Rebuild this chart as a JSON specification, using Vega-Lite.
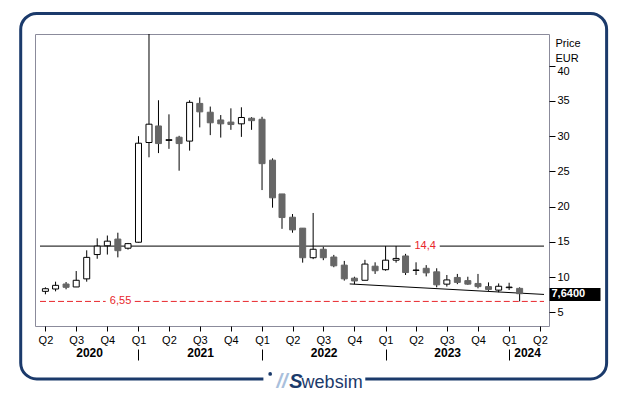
{
  "$schema": "https://vega.github.io/schema/vega-lite/v6.json",
  "width": 514,
  "height": 292,
  "autosize": {"type": "none"},
  "padding": {"left": 35, "top": 34, "right": 80, "bottom": 69},
  "background": "white",
  "config": {
    "font": "Liberation Sans",
    "view": {"stroke": "#8b8b9b", "strokeWidth": 1},
    "axis": {"grid": false}
  },
  "datasets": {
    "candles": [
      {"date": "2020-04-01", "open": 7.98, "high": 8.55, "low": 7.56, "close": 8.35},
      {"date": "2020-05-01", "open": 8.31, "high": 9.35, "low": 7.98, "close": 8.83},
      {"date": "2020-06-01", "open": 9.02, "high": 9.3, "low": 8.27, "close": 8.55},
      {"date": "2020-07-01", "open": 8.6, "high": 10.86, "low": 8.59, "close": 9.55},
      {"date": "2020-08-01", "open": 9.75, "high": 13.8, "low": 9.35, "close": 12.8},
      {"date": "2020-09-01", "open": 13.2, "high": 15.5, "low": 12.6, "close": 14.4},
      {"date": "2020-10-01", "open": 14.45, "high": 15.9, "low": 13.2, "close": 15.1},
      {"date": "2020-11-01", "open": 15.4, "high": 16.3, "low": 12.8, "close": 13.75},
      {"date": "2020-12-01", "open": 14.1, "high": 14.85, "low": 13.9, "close": 14.75},
      {"date": "2021-01-01", "open": 14.95, "high": 30.0, "low": 14.9, "close": 29.0},
      {"date": "2021-02-01", "open": 29.1, "high": 44.5, "low": 27.0, "close": 31.7},
      {"date": "2021-03-01", "open": 31.45, "high": 35.1, "low": 27.6, "close": 28.95},
      {"date": "2021-04-01", "open": 29.4, "high": 33.1, "low": 28.2, "close": 29.5},
      {"date": "2021-05-01", "open": 29.85, "high": 30.05, "low": 25.1, "close": 28.95},
      {"date": "2021-06-01", "open": 29.3, "high": 35.1, "low": 27.95, "close": 34.8},
      {"date": "2021-07-01", "open": 34.65, "high": 35.5, "low": 31.25, "close": 33.45},
      {"date": "2021-08-01", "open": 33.4, "high": 34.2, "low": 30.15, "close": 31.9},
      {"date": "2021-09-01", "open": 32.3, "high": 33.0, "low": 29.8, "close": 31.75},
      {"date": "2021-10-01", "open": 32.0, "high": 33.95, "low": 30.9, "close": 31.65},
      {"date": "2021-11-01", "open": 31.75, "high": 34.1, "low": 29.9, "close": 32.65},
      {"date": "2021-12-01", "open": 32.55, "high": 32.7, "low": 30.9, "close": 32.2},
      {"date": "2022-01-01", "open": 32.4, "high": 32.75, "low": 22.35, "close": 26.1},
      {"date": "2022-02-01", "open": 26.6, "high": 26.85, "low": 19.85, "close": 21.25},
      {"date": "2022-03-01", "open": 21.8, "high": 21.8, "low": 16.85, "close": 18.45},
      {"date": "2022-04-01", "open": 18.5, "high": 18.95, "low": 16.3, "close": 16.7},
      {"date": "2022-05-01", "open": 16.95, "high": 16.95, "low": 12.05, "close": 12.75},
      {"date": "2022-06-01", "open": 12.75, "high": 19.1, "low": 12.55, "close": 13.95},
      {"date": "2022-07-01", "open": 13.95, "high": 14.3, "low": 12.4, "close": 12.75},
      {"date": "2022-08-01", "open": 12.85, "high": 13.15, "low": 11.4, "close": 11.6},
      {"date": "2022-09-01", "open": 11.7, "high": 12.3, "low": 9.5, "close": 9.75},
      {"date": "2022-10-01", "open": 9.85, "high": 10.05, "low": 9.0, "close": 9.45},
      {"date": "2022-11-01", "open": 9.55, "high": 12.45, "low": 9.55, "close": 11.85},
      {"date": "2022-12-01", "open": 11.55, "high": 12.1, "low": 10.45, "close": 10.9},
      {"date": "2023-01-01", "open": 11.05, "high": 14.4, "low": 10.9, "close": 12.4},
      {"date": "2023-02-01", "open": 12.4, "high": 14.4, "low": 12.05, "close": 12.65},
      {"date": "2023-03-01", "open": 13.0, "high": 13.3, "low": 10.3, "close": 10.65},
      {"date": "2023-04-01", "open": 10.95, "high": 12.1, "low": 10.3, "close": 11.0},
      {"date": "2023-05-01", "open": 11.25, "high": 11.7, "low": 10.1, "close": 10.6},
      {"date": "2023-06-01", "open": 10.75, "high": 11.25, "low": 8.55, "close": 8.9},
      {"date": "2023-07-01", "open": 9.0, "high": 10.3, "low": 8.65, "close": 9.6},
      {"date": "2023-08-01", "open": 9.95, "high": 10.45, "low": 9.0, "close": 9.25},
      {"date": "2023-09-01", "open": 9.5, "high": 10.05, "low": 8.9, "close": 9.0},
      {"date": "2023-10-01", "open": 9.1, "high": 10.45, "low": 8.4, "close": 8.65},
      {"date": "2023-11-01", "open": 8.65, "high": 9.25, "low": 8.05, "close": 8.25},
      {"date": "2023-12-01", "open": 8.15, "high": 9.1, "low": 7.85, "close": 8.7},
      {"date": "2024-01-01", "open": 8.5, "high": 9.2, "low": 8.17, "close": 8.58},
      {"date": "2024-02-01", "open": 8.4, "high": 8.55, "low": 6.55, "close": 7.64}
    ]
  },
  "layer": [
    {
      "data": {"values": [{"x1": "2020-01-19", "x2": "2024-10-15", "y1": 47.42, "y2": -4.45}]},
      "mark": {"type": "rect", "cornerRadius": 16, "fill": "white", "fillOpacity": 0, "stroke": "#1b3a6b", "strokeWidth": 3},
      "encoding": {
        "x": {"field": "x1", "type": "temporal", "scale": {"domain": [{"year": 2020, "month": 3, "date": 16}, {"year": 2024, "month": 4, "date": 13}], "nice": false}, "axis": null},
        "x2": {"field": "x2"},
        "y": {"field": "y1", "type": "quantitative", "scale": {"domain": [3.06, 44.5], "nice": false, "zero": false}, "axis": null},
        "y2": {"field": "y2"}
      }
    },
    {
      "data": {"values": [{"x1": "2022-01-05", "x2": "2022-11-02", "y1": -3.17, "y2": -6.0}]},
      "mark": {"type": "rect", "fill": "white", "strokeWidth": 0},
      "encoding": {
        "x": {"field": "x1", "type": "temporal", "scale": {"domain": [{"year": 2020, "month": 3, "date": 16}, {"year": 2024, "month": 4, "date": 13}], "nice": false}, "axis": null},
        "x2": {"field": "x2"},
        "y": {"field": "y1", "type": "quantitative", "scale": {"domain": [3.06, 44.5], "nice": false, "zero": false}, "axis": null},
        "y2": {"field": "y2"}
      }
    },
    {
      "data": {"values": [{"x": "2022-01-25", "y": -3.74}]},
      "mark": {"type": "circle", "size": 14, "color": "#1b3a6b", "opacity": 1},
      "encoding": {
        "x": {"field": "x", "type": "temporal", "scale": {"domain": [{"year": 2020, "month": 3, "date": 16}, {"year": 2024, "month": 4, "date": 13}], "nice": false}, "axis": null},
        "y": {"field": "y", "type": "quantitative", "scale": {"domain": [3.06, 44.5], "nice": false, "zero": false}, "axis": null}
      }
    },
    {
      "data": {"values": [{"x": "2022-03-01", "y": -5.73, "t": "//"}]},
      "mark": {"type": "text", "fontSize": 20, "fontWeight": "bold", "fontStyle": "italic", "color": "#a9bfdc", "align": "center", "baseline": "alphabetic"},
      "encoding": {
        "x": {"field": "x", "type": "temporal", "scale": {"domain": [{"year": 2020, "month": 3, "date": 16}, {"year": 2024, "month": 4, "date": 13}], "nice": false}, "axis": null},
        "y": {"field": "y", "type": "quantitative", "scale": {"domain": [3.06, 44.5], "nice": false, "zero": false}, "axis": null},
        "text": {"field": "t"}
      }
    },
    {
      "data": {"values": [{"x": "2022-04-11", "y": -5.73, "t": "S"}]},
      "mark": {"type": "text", "fontSize": 20, "fontWeight": "bold", "fontStyle": "italic", "color": "#1b3a6b", "align": "center", "baseline": "alphabetic"},
      "encoding": {
        "x": {"field": "x", "type": "temporal", "scale": {"domain": [{"year": 2020, "month": 3, "date": 16}, {"year": 2024, "month": 4, "date": 13}], "nice": false}, "axis": null},
        "y": {"field": "y", "type": "quantitative", "scale": {"domain": [3.06, 44.5], "nice": false, "zero": false}, "axis": null},
        "text": {"field": "t"}
      }
    },
    {
      "data": {"values": [{"x": "2022-07-27", "y": -5.73, "t": "websim"}]},
      "mark": {"type": "text", "fontSize": 18, "color": "#1b3a6b", "align": "center", "baseline": "alphabetic"},
      "encoding": {
        "x": {"field": "x", "type": "temporal", "scale": {"domain": [{"year": 2020, "month": 3, "date": 16}, {"year": 2024, "month": 4, "date": 13}], "nice": false}, "axis": null},
        "y": {"field": "y", "type": "quantitative", "scale": {"domain": [3.06, 44.5], "nice": false, "zero": false}, "axis": null},
        "text": {"field": "t"}
      }
    },
    {
      "data": {"values": [{"x1": "2020-03-16", "x2": "2023-03-16", "y": 14.4}, {"x1": "2023-06-10", "x2": "2024-04-13", "y": 14.4}]},
      "mark": {"type": "rule", "color": "#000000", "strokeWidth": 1},
      "encoding": {
        "x": {"field": "x1", "type": "temporal", "scale": {"domain": [{"year": 2020, "month": 3, "date": 16}, {"year": 2024, "month": 4, "date": 13}], "nice": false},
          "axis": {"orient": "bottom", "values": [{"year": 2020, "month": 8, "date": 8}, {"year": 2021, "month": 7, "date": 2}, {"year": 2022, "month": 7, "date": 2}, {"year": 2023, "month": 7, "date": 2}, {"year": 2024, "month": 2, "date": 23}], "format": "%Y", "formatType": "time", "ticks": false, "domain": false, "grid": false, "labelPadding": 2, "offset": 19, "labelFontSize": 12, "labelFontWeight": "bold", "labelColor": "#000000", "labelFlush": false, "labelOverlap": false, "title": null}},
        "x2": {"field": "x2"},
        "y": {"field": "y", "type": "quantitative", "scale": {"domain": [3.06, 44.5], "nice": false, "zero": false},
          "axis": {"orient": "right", "values": [7.64], "tickSize": 51, "tickWidth": 13, "tickColor": "#000000", "labelColor": "#ffffff", "labelFontWeight": "bold", "labelFontSize": 11, "labelPadding": -49, "labelAlign": "left", "labelBaseline": "middle", "labelExpr": "'7,6400'", "domain": false, "grid": false, "labelOverlap": false, "labelFlush": false, "title": null}}
      }
    },
    {
      "data": {"values": [{"x1": "2020-03-16", "x2": "2020-09-26", "y": 6.55}, {"x1": "2020-12-21", "x2": "2024-04-13", "y": 6.55}]},
      "mark": {"type": "rule", "color": "#e8262b", "strokeWidth": 1, "strokeDash": [6, 3]},
      "encoding": {
        "x": {"field": "x1", "type": "temporal", "scale": {"domain": [{"year": 2020, "month": 3, "date": 16}, {"year": 2024, "month": 4, "date": 13}], "nice": false},
          "axis": {"orient": "bottom", "values": [{"year": 2021, "month": 1, "date": 1}, {"year": 2022, "month": 1, "date": 1}, {"year": 2023, "month": 1, "date": 1}, {"year": 2024, "month": 1, "date": 1}], "labels": false, "domain": false, "grid": false, "tickSize": 11, "tickColor": "#000000", "offset": 23, "title": null}},
        "x2": {"field": "x2"},
        "y": {"field": "y", "type": "quantitative", "scale": {"domain": [3.06, 44.5], "nice": false, "zero": false}, "axis": null}
      }
    },
    {
      "data": {"values": [{"x": "2022-09-17", "y": 9.03}, {"x": "2024-04-13", "y": 7.54}]},
      "mark": {"type": "line", "color": "#000000", "strokeWidth": 1},
      "encoding": {
        "x": {"field": "x", "type": "temporal", "scale": {"domain": [{"year": 2020, "month": 3, "date": 16}, {"year": 2024, "month": 4, "date": 13}], "nice": false}, "axis": null},
        "y": {"field": "y", "type": "quantitative", "scale": {"domain": [3.06, 44.5], "nice": false, "zero": false}, "axis": null}
      }
    },
    {
      "data": {"name": "candles"},
      "mark": {"type": "rule", "color": "#000000", "strokeWidth": 1},
      "encoding": {
        "x": {"field": "date", "type": "temporal", "scale": {"domain": [{"year": 2020, "month": 3, "date": 16}, {"year": 2024, "month": 4, "date": 13}], "nice": false},
          "axis": {"orient": "bottom", "values": [{"year": 2020, "month": 4, "date": 1}, {"year": 2020, "month": 7, "date": 1}, {"year": 2020, "month": 10, "date": 1}, {"year": 2021, "month": 1, "date": 1}, {"year": 2021, "month": 4, "date": 1}, {"year": 2021, "month": 7, "date": 1}, {"year": 2021, "month": 10, "date": 1}, {"year": 2022, "month": 1, "date": 1}, {"year": 2022, "month": 4, "date": 1}, {"year": 2022, "month": 7, "date": 1}, {"year": 2022, "month": 10, "date": 1}, {"year": 2023, "month": 1, "date": 1}, {"year": 2023, "month": 4, "date": 1}, {"year": 2023, "month": 7, "date": 1}, {"year": 2023, "month": 10, "date": 1}, {"year": 2024, "month": 1, "date": 1}, {"year": 2024, "month": 4, "date": 1}], "format": "Q%q", "formatType": "time", "tickSize": 5, "tickColor": "#000000", "labelPadding": 3, "labelFontSize": 11, "labelColor": "#000000", "domain": false, "grid": false, "labelFlush": false, "labelOverlap": false, "title": null}},
        "y": {"field": "low", "type": "quantitative", "scale": {"domain": [3.06, 44.5], "nice": false, "zero": false},
          "axis": {"orient": "right", "values": [5, 10, 15, 20, 25, 30, 35, 40], "tickSize": 6, "tickColor": "#000000", "labelPadding": 2, "labelFontSize": 11, "labelColor": "#000000", "domain": false, "grid": false, "labelFlush": false, "labelOverlap": false, "labelBaseline": {"condition": {"test": "datum.value == 40", "value": "top"}, "value": "middle"}, "title": ["Price", "EUR"], "titleAngle": 0, "titleAlign": "left", "titleBaseline": "alphabetic", "titleX": 6, "titleY": 12, "titleFontSize": 11, "titleFontWeight": "normal", "titleColor": "#000000", "titleLineHeight": 15}},
        "y2": {"field": "high"}
      }
    },
    {
      "data": {"name": "candles"},
      "mark": {"type": "bar", "size": 6, "strokeWidth": 1},
      "encoding": {
        "x": {"field": "date", "type": "temporal", "scale": {"domain": [{"year": 2020, "month": 3, "date": 16}, {"year": 2024, "month": 4, "date": 13}], "nice": false}, "axis": null},
        "y": {"field": "open", "type": "quantitative", "scale": {"domain": [3.06, 44.5], "nice": false, "zero": false}, "axis": null},
        "y2": {"field": "close"},
        "fill": {"condition": {"test": "datum.close >= datum.open", "value": "#ffffff"}, "value": "#666666"},
        "stroke": {"condition": {"test": "datum.close >= datum.open", "value": "#000000"}, "value": "#666666"}
      }
    },
    {
      "data": {"values": [{"x": "2023-04-28", "y": 14.4, "t": "14,4"}, {"x": "2020-11-09", "y": 6.55, "t": "6,55"}]},
      "mark": {"type": "text", "fontSize": 11, "color": "#e8262b", "align": "center", "baseline": "middle"},
      "encoding": {
        "x": {"field": "x", "type": "temporal", "scale": {"domain": [{"year": 2020, "month": 3, "date": 16}, {"year": 2024, "month": 4, "date": 13}], "nice": false}, "axis": null},
        "y": {"field": "y", "type": "quantitative", "scale": {"domain": [3.06, 44.5], "nice": false, "zero": false}, "axis": null},
        "text": {"field": "t"}
      }
    }
  ],
  "resolve": {"axis": {"x": "independent", "y": "independent"}}
}
